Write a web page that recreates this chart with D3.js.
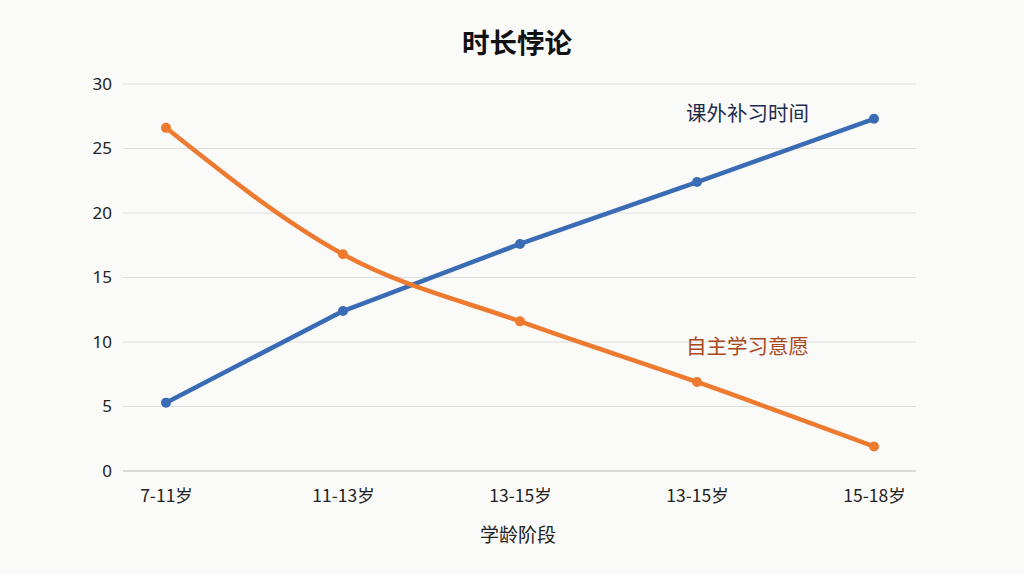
<!DOCTYPE html>
<html>
<head>
<meta charset="utf-8">
<script src="https://cdn.jsdelivr.net/npm/d3@7"></script>
<style>
  body { margin: 0; background: #fafaf9; }
  svg { font-family: "Noto Sans CJK SC", "Noto Sans", sans-serif; }
</style>
</head>
<body>
<div id="chart"></div>
<script>
"use strict";

// chart data
let categories = ["7-11岁", "11-13岁", "13-15岁", "13-15岁", "15-18岁"];
let tutoring = [5.3, 12.4, 17.6, 22.4, 27.3];
let willingness = [26.6, 16.8, 11.6, 6.9, 1.9];
let yTicks = [0, 5, 10, 15, 20, 25, 30];

function draw() {
    let width = 1024;
    let height = 575;
    let left = 123, right = 916, top = 84, bottom = 471;

    let svg = d3.select("#chart").append("svg")
        .attr("width", width).attr("height", height);

    // soft background
    svg.append("rect").attr("width", width).attr("height", height).attr("fill", "#fafaf9");

    let idx = categories.map(function (d, i) { return i; });
    let xScale = d3.scalePoint().domain(idx).range([166, 874]);
    let yScale = d3.scaleLinear().domain([0, 30]).range([bottom, top]);

    // gridlines
    svg.append("g").selectAll("line").data(yTicks).enter().append("line")
        .attr("x1", left).attr("x2", right)
        .attr("y1", function (d) { return yScale(d); })
        .attr("y2", function (d) { return yScale(d); })
        .attr("stroke", function (d) { return d === 0 ? "#cfcfcf" : "#dedede"; })
        .attr("stroke-width", function (d) { return d === 0 ? 1.5 : 1; });

    // y axis labels
    let yAxis = svg.append("g").attr("transform", `translate(${left},0)`)
        .call(d3.axisLeft(yScale).tickValues(yTicks).tickSize(0).tickPadding(11));
    yAxis.select(".domain").remove();
    yAxis.attr("font-size", null).attr("font-family", null);
    yAxis.selectAll("text").style("font-size", "17px").attr("fill", "#222")
        .style("font-family", "'Noto Sans', sans-serif");

    // x axis labels
    let xAxis = svg.append("g").attr("transform", `translate(0,${bottom})`)
        .call(d3.axisBottom(xScale).tickSize(0).tickPadding(19)
            .tickFormat(function (i) { return categories[i]; }));
    xAxis.select(".domain").remove();
    xAxis.attr("font-size", null).attr("font-family", null);
    xAxis.selectAll("text").style("font-size", "17.5px").attr("fill", "#222");

    // title and axis title
    svg.append("text").attr("x", 517).attr("y", 53).attr("text-anchor", "middle")
        .attr("font-size", 27.5).attr("font-weight", "bold").attr("fill", "#111").text("时长悖论");
    svg.append("text").attr("x", 518).attr("y", 542).attr("text-anchor", "middle")
        .attr("font-size", 19).attr("fill", "#222").text("学龄阶段");

    let series = [
        {name: "课外补习时间", values: tutoring, color: "#3a6cb5", label: "#1f2b4d", ly: 121, curve: d3.curveLinear},
        {name: "自主学习意愿", values: willingness, color: "#ee7a2f", label: "#a9481b", ly: 354, curve: d3.curveMonotoneX}
    ];

    series.forEach(function (s) {
        let line = d3.line()
            .x(function (d, i) { return xScale(i); })
            .y(function (d) { return yScale(d); })
            .curve(s.curve);

        svg.append("path").datum(s.values)
            .attr("d", line).attr("fill", "none")
            .attr("stroke", s.color).attr("stroke-width", 4.5)
            .attr("stroke-linecap", "round").attr("stroke-linejoin", "round");

        svg.append("g").selectAll("circle").data(s.values).enter().append("circle")
            .attr("cx", function (d, i) { return xScale(i); })
            .attr("cy", function (d) { return yScale(d); })
            .attr("r", 5).attr("fill", s.color);

        svg.append("text").attr("x", 686).attr("y", s.ly)
            .attr("font-size", 20.5).attr("fill", s.label).text(s.name);
    });
}

window.onload = draw;
</script>
</body>
</html>
